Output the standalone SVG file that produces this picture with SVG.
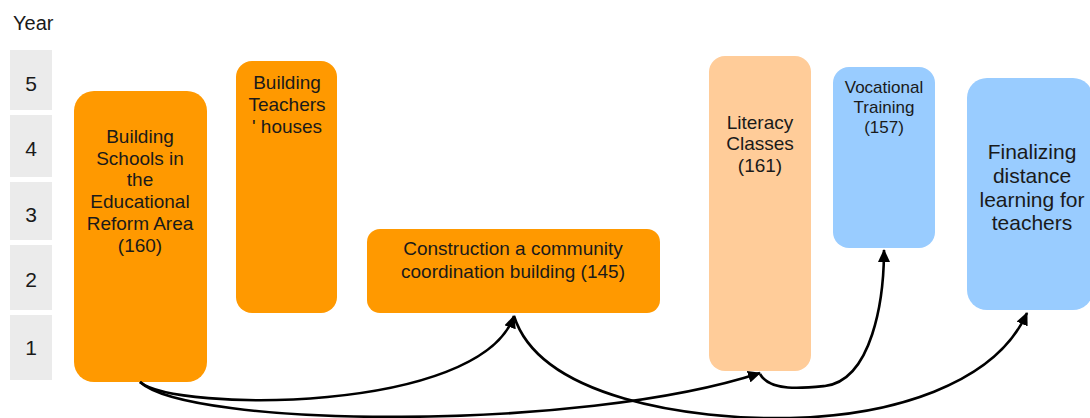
<svg xmlns="http://www.w3.org/2000/svg" width="1090" height="418" viewBox="0 0 1090 418">
<style>
text{font-family:"Liberation Sans",Arial,sans-serif;fill:#1a1a1a}
.yr{fill:#ebebeb}
.num{font-size:21px;text-anchor:middle}
.t19{font-size:19px;text-anchor:middle}
.t17{font-size:17px;text-anchor:middle}
.t21{font-size:21px;text-anchor:middle}
.or{fill:#ff9900}
.lo{fill:#ffcc99}
.bl{fill:#99ccff}
.c{fill:none;stroke:#000;stroke-width:2.6}
</style>
<defs>
<marker id="ah" markerUnits="userSpaceOnUse" markerWidth="14" markerHeight="12" refX="12" refY="6" orient="auto">
<path d="M0,0 L13,6 L0,12 Z" fill="#000"/>
</marker>
</defs>
<g id="axis">
<text x="13" y="30" style="font-size:20px">Year</text>
<rect class="yr" x="10" y="50" width="42" height="60"/>
<rect class="yr" x="10" y="115" width="42" height="62"/>
<rect class="yr" x="10" y="182" width="42" height="58"/>
<rect class="yr" x="10" y="245" width="42" height="65"/>
<rect class="yr" x="10" y="315" width="42" height="65"/>
<text class="num" x="31" y="91">5</text>
<text class="num" x="31" y="156">4</text>
<text class="num" x="31" y="222">3</text>
<text class="num" x="31" y="287">2</text>
<text class="num" x="31" y="355">1</text>
</g>
<g id="schools">
<rect class="or" x="74" y="91" width="133" height="291" rx="20"/>
<text class="t19" x="140" y="143">Building</text>
<text class="t19" x="140" y="165">Schools in</text>
<text class="t19" x="140" y="186">the</text>
<text class="t19" x="140" y="208">Educational</text>
<text class="t19" x="140" y="230">Reform Area</text>
<text class="t19" x="140" y="252">(160)</text>
</g>
<g id="teachers">
<rect class="or" x="236" y="61" width="101" height="252" rx="16"/>
<text class="t19" x="287" y="89">Building</text>
<text class="t19" x="287" y="111">Teachers</text>
<text class="t19" x="287" y="133">' houses</text>
</g>
<g id="community">
<rect class="or" x="367" y="229" width="293" height="84" rx="13"/>
<text class="t19" x="513" y="255">Construction a community</text>
<text class="t19" x="513" y="278">coordination building (145)</text>
</g>
<g id="literacy">
<rect class="lo" x="709" y="56" width="102" height="315" rx="16"/>
<text class="t19" x="760" y="129">Literacy</text>
<text class="t19" x="760" y="150">Classes</text>
<text class="t19" x="760" y="172">(161)</text>
</g>
<g id="vocational">
<rect class="bl" x="833" y="67" width="102" height="181" rx="16"/>
<text class="t17" x="884" y="93">Vocational</text>
<text class="t17" x="884" y="113">Training</text>
<text class="t17" x="884" y="133">(157)</text>
</g>
<g id="distance">
<rect class="bl" x="967" y="78" width="126" height="232" rx="20"/>
<text class="t21" x="1032" y="159">Finalizing</text>
<text class="t21" x="1032" y="183">distance</text>
<text class="t21" x="1032" y="207">learning for</text>
<text class="t21" x="1032" y="230">teachers</text>
</g>
<g id="connectors">
<path class="c" marker-end="url(#ah)" d="M140,382 C175,412 480,414 514,316"/>
<path class="c" marker-end="url(#ah)" d="M140,382 C190,428 580,432 760,373"/>
<path class="c" marker-end="url(#ah)" d="M514,316 C540,398 690,420 790,418 C890,416 995,385 1027,313"/>
<path class="c" marker-end="url(#ah)" d="M760,374 C770,392 805,388 825,386 C872,380 884,300 884,250"/>
</g>
</svg>
